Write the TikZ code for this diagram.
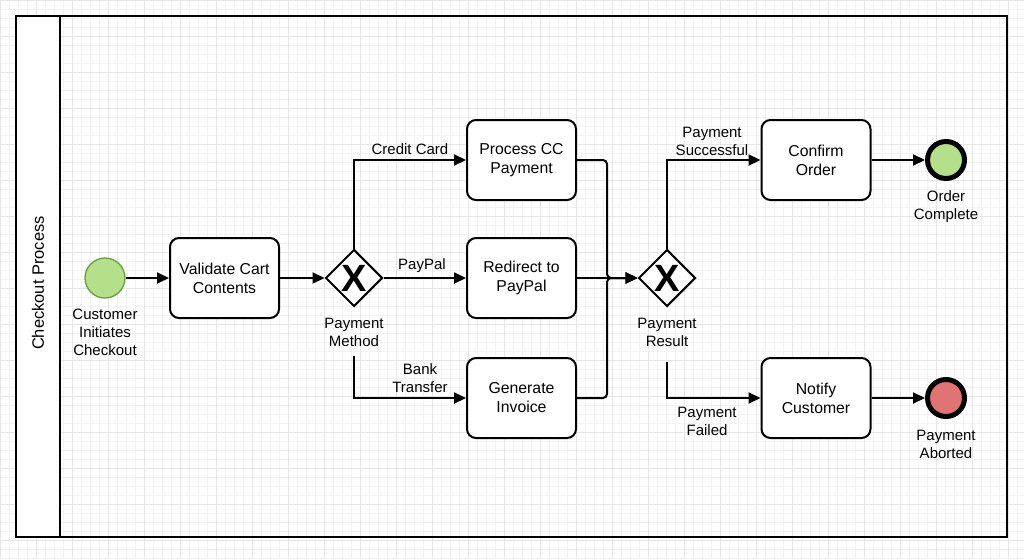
\documentclass[tikz,border=0pt]{standalone}
\usepackage{fontspec}
\setmainfont{Liberation Sans}
\usetikzlibrary{shapes.geometric,arrows.meta}
\definecolor{gridminor}{HTML}{F2F2F2}
\definecolor{gridmajor}{HTML}{E6E6E6}
\definecolor{startfill}{HTML}{B5DF8A}
\definecolor{startdraw}{HTML}{6A9E3A}
\definecolor{abortfill}{HTML}{E07474}
\begin{document}
\begin{tikzpicture}[x=1pt,y=-1pt,
  task/.style={draw,line width=2pt,rounded corners=9pt,fill=white,minimum width=109pt,minimum height=80pt,align=center,font=\fontsize{15.8}{19}\selectfont},
  gw/.style={draw,diamond,line width=2pt,fill=white,minimum width=57pt,minimum height=57pt,inner sep=0pt,font=\fontsize{38}{38}\selectfont\bfseries},
  startev/.style={circle,draw=startdraw,fill=startfill,line width=1.3pt,minimum size=40pt,inner sep=0pt},
  endev/.style={circle,draw=black,line width=5pt,minimum size=37pt,inner sep=0pt},
  lbl/.style={align=center,font=\fontsize{15}{18}\selectfont,inner sep=1pt},
  flow/.style={line width=2pt,-{Triangle[length=12pt,width=11pt]}},
]
\useasboundingbox (0,0) rectangle (1024,559);
% grid
\foreach \x in {0,9,...,1024} \draw[gridminor,line width=0.7pt] (\x,0) -- (\x,559);
\foreach \y in {0,9,...,559} \draw[gridminor,line width=0.7pt] (0,\y) -- (1024,\y);
\foreach \x in {0,36,...,1024} \draw[gridmajor,line width=0.7pt] (\x,0) -- (\x,559);
\foreach \y in {0,36,...,559} \draw[gridmajor,line width=0.7pt] (0,\y) -- (1024,\y);
% pool
\fill[white] (16,16) rectangle (60,537);
\draw[line width=2pt] (16,16) rectangle (1007,537);
\draw[line width=2pt] (60,16) -- (60,537);
\node[rotate=90,font=\fontsize{16.5}{18}\selectfont] (pool) at (38,283) {Checkout Process};

% nodes
\node[startev] (start) at (105,278) {};
\node[lbl] (startlab) at (105,332) {Customer\\Initiates\\Checkout};
\node[task] (validate) at (224.5,278) {Validate Cart\\Contents};
\node[gw] (pm) at (354,278) {X};
\node[lbl] (pmlab) at (354,332) {Payment\\Method};
\node[task] (cc) at (521.5,160) {Process CC\\Payment};
\node[task] (pp) at (521.5,278) {Redirect to\\PayPal};
\node[task] (inv) at (521.5,398) {Generate\\Invoice};
\node[gw] (pr) at (667,278) {X};
\node[lbl] (prlab) at (667,332) {Payment\\Result};
\node[task] (confirm) at (816,160) {Confirm\\Order};
\node[task] (notify) at (816,398) {Notify\\Customer};
\node[endev,fill=startfill] (endok) at (946,160) {};
\node[lbl] (endoklab) at (946,207) {Order\\Complete};
\node[endev,fill=abortfill] (endab) at (946,398) {};
\node[lbl] (endablab) at (946,444) {Payment\\Aborted};

\coordinate (pmdrop) at (354,356);
\coordinate (prdrop) at (667,362);

% edge labels
\node[lbl] (lcc) at (410,149) {Credit Card};
\node[lbl] (lpp) at (422,266) {PayPal};
\node[lbl] (lbt) at (420,378) {Bank\\Transfer};
\node[lbl] (lok) at (712,141) {Payment\\Successful};
\node[lbl] (lfail) at (707,421) {Payment\\Failed};

% connectors
\draw[flow] (start) -- (validate);
\draw[flow] (validate) -- (pm);
\draw[flow] (pm.north) |- (cc.west);
\draw[flow] (pm.east) -- (pp.west);
\draw[flow] (pmdrop) |- (inv.west);
\draw[flow,rounded corners=4pt] (cc.east) -- ++(30,0) |- (pr.west);
\draw[flow] (pp.east) -- (pr.west);
\draw[flow,rounded corners=4pt] (inv.east) -- ++(30,0) |- (pr.west);
\draw[flow] (pr.north) |- (confirm.west);
\draw[flow] (prdrop) |- (notify.west);
\draw[flow] (confirm) -- (endok);
\draw[flow] (notify) -- (endab);
\end{tikzpicture}
\end{document}
